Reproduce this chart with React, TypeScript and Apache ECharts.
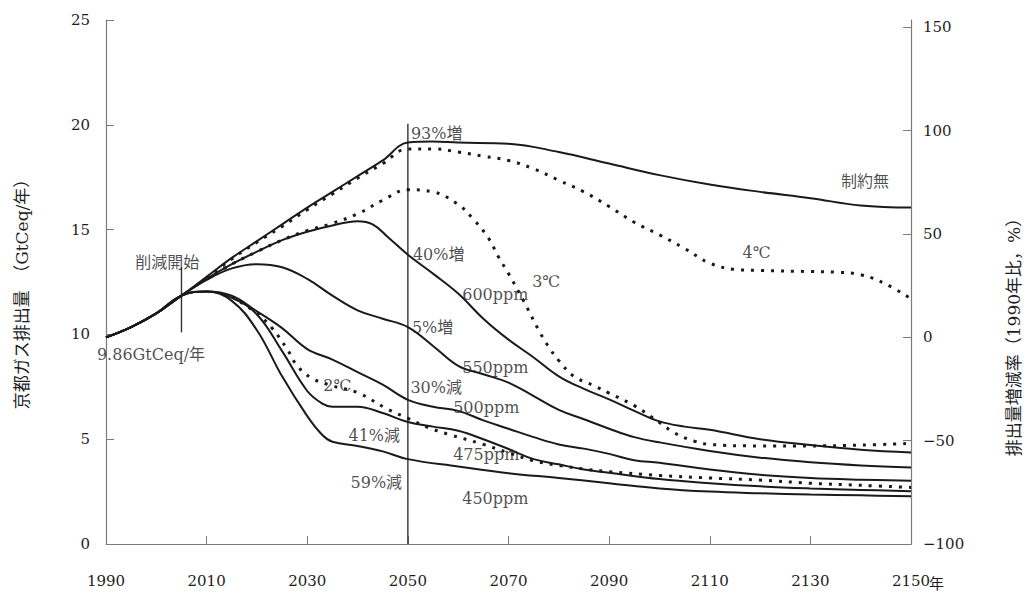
import React, { useEffect, useRef } from "react";
import * as echarts from "echarts";

// ---- data (GtCeq / year) ----
const noLimit = [[1990,9.86],[1995,10.35],[2000,11.0],[2005,11.85],[2010,12.75],[2015,13.65],[2020,14.45],[2025,15.25],[2030,16.05],[2035,16.8],[2040,17.55],[2045,18.3],[2050,19.15],[2055,19.2],[2060,19.15],[2070,19.1],[2080,18.7],[2090,18.15],[2100,17.6],[2110,17.15],[2120,16.8],[2130,16.5],[2140,16.15],[2150,16.05]];
const deg4 = [[2010,12.7],[2015,13.6],[2020,14.4],[2025,15.15],[2030,15.95],[2035,16.7],[2040,17.45],[2045,18.15],[2050,18.85],[2055,18.85],[2060,18.7],[2065,18.5],[2070,18.3],[2075,17.9],[2080,17.35],[2085,16.8],[2090,16.1],[2095,15.35],[2100,14.75],[2105,14.1],[2110,13.4],[2115,13.1],[2120,13.05],[2130,13.0],[2135,12.97],[2140,12.85],[2145,12.4],[2150,11.7]];
const deg3 = [[2010,12.65],[2015,13.35],[2020,13.95],[2025,14.5],[2030,14.95],[2035,15.3],[2040,15.75],[2045,16.4],[2050,16.9],[2055,16.8],[2060,16.2],[2063,15.5],[2066,14.6],[2068,13.7],[2070,12.9],[2073,11.6],[2076,10.2],[2078,9.4],[2080,8.75],[2083,8.0],[2087,7.55],[2090,7.2],[2095,6.6],[2100,5.8],[2103,5.3],[2107,4.9],[2110,4.75],[2120,4.68],[2130,4.68],[2140,4.72],[2150,4.8]];
const ppm600 = [[1990,9.86],[1995,10.35],[2000,11.0],[2005,11.85],[2010,12.65],[2015,13.35],[2020,13.95],[2025,14.5],[2030,14.9],[2035,15.2],[2040,15.4],[2043,15.25],[2046,14.65],[2050,13.8],[2055,12.9],[2060,11.95],[2065,10.75],[2070,9.75],[2075,8.9],[2080,8.0],[2085,7.4],[2090,6.9],[2095,6.35],[2100,5.85],[2105,5.6],[2110,5.45],[2120,5.0],[2130,4.72],[2140,4.5],[2150,4.37]];
const ppm550 = [[1990,9.86],[1995,10.35],[2000,11.0],[2005,11.85],[2010,12.6],[2015,13.15],[2020,13.35],[2025,13.2],[2030,12.65],[2035,11.85],[2040,11.15],[2045,10.75],[2050,10.35],[2055,9.45],[2060,8.5],[2065,8.1],[2070,7.7],[2075,7.06],[2080,6.4],[2085,5.95],[2090,5.5],[2095,5.1],[2100,4.85],[2110,4.44],[2120,4.12],[2130,3.9],[2140,3.75],[2150,3.65]];
const ppm500 = [[1990,9.86],[1995,10.35],[2000,11.0],[2005,11.85],[2010,12.05],[2015,11.85],[2020,11.1],[2025,10.3],[2030,9.3],[2035,8.8],[2040,8.2],[2045,7.6],[2050,6.88],[2055,6.55],[2060,6.35],[2065,5.9],[2070,5.5],[2075,5.1],[2080,4.75],[2085,4.55],[2090,4.3],[2095,4.0],[2100,3.88],[2110,3.55],[2120,3.3],[2130,3.15],[2140,3.07],[2150,3.02]];
const deg2 = [[2015,11.8],[2020,11.0],[2023,10.3],[2026,9.3],[2028,8.5],[2031,7.9],[2035,7.55],[2040,7.22],[2046,6.43],[2050,6.0],[2054,5.56],[2058,5.24],[2065,4.75],[2070,4.35],[2075,3.97],[2080,3.75],[2085,3.58],[2090,3.45],[2100,3.27],[2110,3.15],[2120,3.05],[2130,2.9],[2140,2.8],[2150,2.7]];
const ppm475 = [[1990,9.86],[1995,10.35],[2000,11.0],[2005,11.85],[2010,12.05],[2015,11.75],[2020,10.95],[2025,9.2],[2030,7.3],[2033,6.7],[2035,6.55],[2040,6.55],[2045,6.25],[2050,5.82],[2055,5.6],[2060,5.4],[2065,5.0],[2070,4.53],[2075,4.05],[2080,3.8],[2085,3.55],[2090,3.4],[2100,3.1],[2110,2.9],[2120,2.75],[2130,2.65],[2140,2.58],[2150,2.52]];
const ppm450 = [[1990,9.86],[1995,10.35],[2000,11.0],[2005,11.85],[2010,12.05],[2015,11.6],[2020,10.2],[2025,8.0],[2030,6.1],[2033,5.2],[2035,4.88],[2040,4.68],[2045,4.42],[2050,4.05],[2060,3.7],[2070,3.38],[2080,3.15],[2090,2.9],[2100,2.65],[2110,2.5],[2120,2.42],[2130,2.36],[2140,2.32],[2150,2.28]];

// reference markers
const line2050 = [[2050, 0], [2050, 20.05]];
const startLine = [[2005, 10.1], [2005, 13.2]];

// annotations
const labelTexts = ["93%増", "削減開始", "9.86GtCeq/年", "40%増", "600ppm", "3℃", "4℃", "制約無", "5%増", "550ppm", "30%減", "500ppm", "2℃", "41%減", "475ppm", "59%減", "450ppm"];
const labelX = [2050.6, 1995.8, 1988.2, 2051, 2060.8, 2074.7, 2116.5, 2136.1, 2050.8, 2060.8, 2050.5, 2059, 2033.2, 2038.2, 2059, 2038.6, 2060.8];
const labelY = [19.6, 13.43, 9.05, 13.8, 11.9, 12.54, 13.92, 17.3, 10.32, 8.41, 7.46, 6.5, 7.54, 5.16, 4.29, 2.94, 2.18];

const rightTicks = [-100, -50, 0, 50, 100, 150];

const FONT = '"DejaVu Serif", "Noto Sans CJK JP", serif';
const AXIS_COLOR = "#7a7a7a";
const TEXT_COLOR = "#1e1e1e";

export default function App() {
  const ref = useRef<HTMLDivElement>(null);
  useEffect(() => {
    if (!ref.current) return;
    const chart = echarts.init(ref.current, undefined, { renderer: "svg" });
    const solid = (name: string, data: number[][]) => ({
      name, type: "line", data, smooth: 0.4, symbol: "none",
      lineStyle: { color: "#1a1a1a", width: 2 }, z: 3,
    });
    const dotted = (name: string, data: number[][]) => ({
      name, type: "line", data, smooth: 0.4, symbol: "none",
      lineStyle: { color: "#1a1a1a", width: 3, type: [3, 7] }, z: 4,
    });
    const option = {
      animation: false,
      grid: { left: 106, right: 117, top: 20, bottom: 50 },
      xAxis: {
        type: "value", min: 1990, max: 2150, interval: 20,
        axisLine: { lineStyle: { color: AXIS_COLOR, width: 1.2 } },
        axisTick: { inside: true, length: 8, lineStyle: { color: AXIS_COLOR } },
        splitLine: { show: false },
        axisLabel: { margin: 29, fontSize: 15, color: TEXT_COLOR, fontFamily: FONT, formatter: (v: number) => String(v) },
      },
      yAxis: [
        {
          type: "value", min: 0, max: 25, interval: 5, position: "left",
          axisLine: { show: true, lineStyle: { color: AXIS_COLOR, width: 1.2 } },
          axisTick: { show: true, inside: true, length: 8, lineStyle: { color: AXIS_COLOR } },
          splitLine: { show: false },
          axisLabel: { margin: 16, fontSize: 15, color: TEXT_COLOR, fontFamily: FONT },
        },
        {
          type: "value", min: -100, max: 153.55, position: "right",
          axisLine: { show: true, lineStyle: { color: AXIS_COLOR, width: 1.2 } },
          axisTick: { show: true, inside: true, length: 8, lineStyle: { color: AXIS_COLOR }, customValues: rightTicks },
          splitLine: { show: false },
          axisLabel: {
            margin: 12, fontSize: 15, color: TEXT_COLOR, fontFamily: FONT, customValues: rightTicks,
            formatter: (v: number) => (v < 0 ? "\u2212" + Math.abs(v) : String(v)),
          },
        },
      ],
      series: [
        solid("制約無", noLimit),
        dotted("4℃", deg4),
        dotted("3℃", deg3),
        solid("600ppm", ppm600),
        solid("550ppm", ppm550),
        solid("500ppm", ppm500),
        dotted("2℃", deg2),
        solid("475ppm", ppm475),
        solid("450ppm", ppm450),
        { type: "line", data: line2050, symbol: "none", lineStyle: { color: "#333", width: 1.4 }, z: 2 },
        { type: "line", data: startLine, symbol: "none", lineStyle: { color: "#333", width: 1.4 }, z: 2 },
        {
          type: "scatter", symbolSize: 0, clip: false, z: 10,
          data: labelTexts.map((t, i) => ({ value: [labelX[i], labelY[i]], name: t })),
          label: {
            show: true, position: "right", distance: 0, formatter: (p: any) => p.name,
            fontSize: 16, color: TEXT_COLOR, fontFamily: FONT,
          },
        },
      ],
      graphic: [
        { type: "text", x: 929, y: 582, style: { text: "年", font: '15px "Noto Sans CJK JP"', fill: TEXT_COLOR, textVerticalAlign: "middle" } },
        { type: "text", x: 22, y: 290, rotation: Math.PI / 2, style: { text: "京都ガス排出量　（GtCeq/年）", font: '17px "DejaVu Serif", "Noto Sans CJK JP"', fill: TEXT_COLOR, textAlign: "center", textVerticalAlign: "middle" } },
        { type: "text", x: 1014, y: 333, rotation: Math.PI / 2, style: { text: "排出量増減率（1990年比，%）", font: '17px "DejaVu Serif", "Noto Sans CJK JP"', fill: TEXT_COLOR, textAlign: "center", textVerticalAlign: "middle" } },
      ],
    };
    chart.setOption(option as any);
    return () => chart.dispose();
  }, []);
  return <div ref={ref} style={{ width: 1028, height: 594, position: "absolute", left: 0, top: 0 }} />;
}
